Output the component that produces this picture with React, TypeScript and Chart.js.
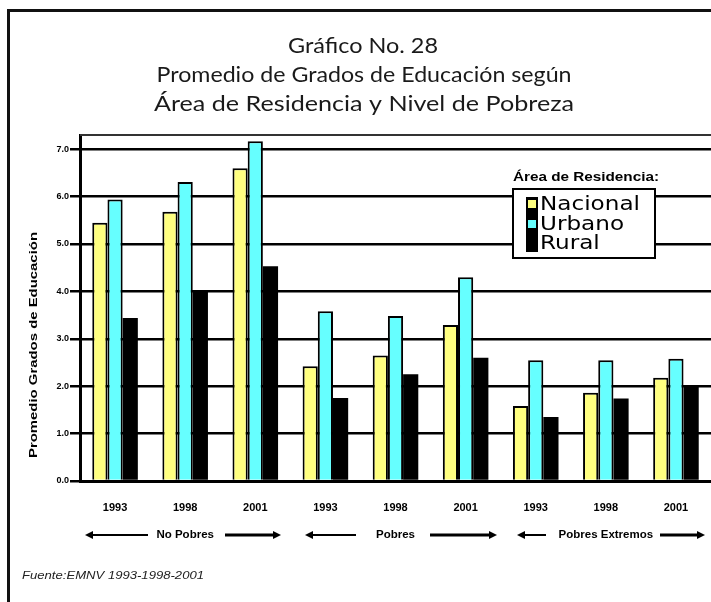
import React, { useEffect, useRef } from 'react';
import { Chart, registerables } from 'chart.js';

Chart.register(...registerables);

// ---- data ----
const CATEGORIES = ['1993', '1998', '2001', '1993', '1998', '2001', '1993', '1998', '2001'];
const GROUPS = ['No Pobres', 'Pobres', 'Pobres Extremos'];
const NACIONAL = [5.45, 5.68, 6.6, 2.42, 2.65, 3.29, 1.58, 1.86, 2.18];
const URBANO = [5.94, 6.31, 7.17, 3.58, 3.48, 4.3, 2.55, 2.55, 2.58];
const RURAL = [3.44, 3.99, 4.53, 1.75, 2.25, 2.6, 1.35, 1.74, 2.0];
const SERIES_NAMES = ['Nacional', 'Urbano', 'Rural'];
const TITLE_LINES = [
  'Gráfico No. 28',
  'Promedio de Grados de Educación según',
  'Área de Residencia y Nivel de Pobreza',
];
const Y_TITLE = 'Promedio Grados de Educación';
const LEGEND_TITLE = 'Área de Residencia:';
const SOURCE = 'Fuente:EMNV 1993-1998-2001';

const YELLOW = '#ffff80';
const CYAN = '#66ffff';
const BLACK = '#000000';

// arrow spans per group: [leftArrowStart, leftArrowEnd, rightArrowStart, rightArrowEnd]
const ARROWS = [
  [85, 148, 225, 281],
  [305, 356, 430, 497],
  [517, 546, 660, 705],
];

function fitText(ctx: CanvasRenderingContext2D, text: string, x: number, y: number, width: number) {
  const w = ctx.measureText(text).width;
  const sx = width / w;
  ctx.save();
  ctx.translate(x, y);
  ctx.scale(sx, 1);
  ctx.fillText(text, 0, 0);
  ctx.restore();
}

function arrow(ctx: CanvasRenderingContext2D, x1: number, x2: number, y: number, headAt: 'left' | 'right', lw: number) {
  ctx.save();
  ctx.strokeStyle = '#000';
  ctx.fillStyle = '#000';
  ctx.lineWidth = lw;
  ctx.beginPath();
  if (headAt === 'left') {
    ctx.moveTo(x1 + 6, y);
    ctx.lineTo(x2, y);
  } else {
    ctx.moveTo(x1, y);
    ctx.lineTo(x2 - 6, y);
  }
  ctx.stroke();
  ctx.beginPath();
  if (headAt === 'left') {
    ctx.moveTo(x1, y);
    ctx.lineTo(x1 + 8, y - 4);
    ctx.lineTo(x1 + 8, y + 4);
  } else {
    ctx.moveTo(x2, y);
    ctx.lineTo(x2 - 8, y - 4);
    ctx.lineTo(x2 - 8, y + 4);
  }
  ctx.closePath();
  ctx.fill();
  ctx.restore();
}

const decor = {
  id: 'decor',
  afterDraw(chart: any) {
    const ctx: CanvasRenderingContext2D = chart.ctx;
    const { left, right, top } = chart.chartArea;
    const xs = chart.scales.x;

    // outer frame
    ctx.save();
    ctx.strokeStyle = '#111';
    ctx.lineWidth = 3;
    ctx.beginPath();
    ctx.moveTo(8.5, 602);
    ctx.lineTo(8.5, 10.5);
    ctx.lineTo(711, 10.5);
    ctx.stroke();

    // plot top frame
    ctx.strokeStyle = '#333';
    ctx.lineWidth = 2;
    ctx.beginPath();
    ctx.moveTo(left, top);
    ctx.lineTo(right, top);
    ctx.stroke();
    ctx.restore();

    // title
    ctx.save();
    ctx.fillStyle = '#1a1a1a';
    ctx.textAlign = 'center';
    ctx.textBaseline = 'middle';
    ctx.font = '21px Lato';
    fitText(ctx, TITLE_LINES[0], 363, 46, 150);
    fitText(ctx, TITLE_LINES[1], 364, 75, 415);
    fitText(ctx, TITLE_LINES[2], 364, 104, 420);
    ctx.restore();

    // y axis title
    ctx.save();
    ctx.fillStyle = '#000';
    ctx.font = 'bold 10px "Liberation Sans"';
    ctx.textAlign = 'center';
    ctx.textBaseline = 'middle';
    ctx.translate(34, 345);
    ctx.rotate(-Math.PI / 2);
    fitText(ctx, Y_TITLE, 0, 0, 226);
    ctx.restore();

    // group labels with arrows
    ctx.save();
    ctx.fillStyle = '#000';
    ctx.font = 'bold 10px "Liberation Sans"';
    ctx.textAlign = 'center';
    ctx.textBaseline = 'middle';
    GROUPS.forEach((g, i) => {
      const cx = (xs.getPixelForValue(i * 3) + xs.getPixelForValue(i * 3 + 2)) / 2;
      const y = 535;
      fitText(ctx, g, cx, y, ctx.measureText(g).width * 1.15);
      const a = ARROWS[i];
      arrow(ctx, a[0], a[1], y, 'left', 2);
      arrow(ctx, a[2], a[3], y, 'right', 3);
    });
    ctx.restore();

    // source
    ctx.save();
    ctx.fillStyle = '#222';
    ctx.font = 'italic 11px "Liberation Sans"';
    ctx.textAlign = 'left';
    ctx.textBaseline = 'middle';
    fitText(ctx, SOURCE, 22, 576, 182);
    ctx.restore();

    // legend
    ctx.save();
    ctx.fillStyle = '#000';
    ctx.font = 'bold 12px "Liberation Sans"';
    ctx.textAlign = 'left';
    ctx.textBaseline = 'middle';
    fitText(ctx, LEGEND_TITLE, 513, 178, 146);
    ctx.fillStyle = '#fff';
    ctx.fillRect(513, 189, 142, 69);
    ctx.strokeStyle = '#000';
    ctx.lineWidth = 2;
    ctx.strokeRect(513, 189, 142, 69);
    const ds = chart.data.datasets;
    ctx.fillStyle = '#000';
    ctx.fillRect(526, 197, 12, 55);
    ctx.font = '19px "DejaVu Sans"';
    const scaleX = 100 / ctx.measureText(ds[0].label).width;
    const rowY = [204, 224, 243];
    ds.forEach((d: any, i: number) => {
      ctx.fillStyle = d.backgroundColor;
      if (d.backgroundColor !== BLACK) ctx.fillRect(528, rowY[i] - 4, 8, 8);
      ctx.fillStyle = '#000';
      fitText(ctx, d.label, 540, rowY[i] + 1, ctx.measureText(d.label).width * scaleX);
    });
    ctx.restore();
  },
};

export default function App() {
  const ref = useRef<HTMLCanvasElement>(null);
  useEffect(() => {
    const chart = new Chart(ref.current!, {
      type: 'bar',
      data: {
        labels: CATEGORIES,
        datasets: [
          { label: SERIES_NAMES[0], data: NACIONAL, backgroundColor: YELLOW, borderColor: '#000', borderWidth: 2 },
          { label: SERIES_NAMES[1], data: URBANO, backgroundColor: CYAN, borderColor: '#000', borderWidth: 2 },
          { label: SERIES_NAMES[2], data: RURAL, backgroundColor: BLACK, borderColor: '#000', borderWidth: 0 },
        ],
      },
      options: {
        responsive: false,
        animation: false,
        devicePixelRatio: 1,
        layout: { padding: { top: 135, left: 0, right: 0, bottom: 0 } },
        datasets: { bar: { categoryPercentage: 0.65, barPercentage: 1.0 } },
        plugins: { legend: { display: false }, title: { display: false }, tooltip: { enabled: false } },
        scales: {
          x: {
            grid: { display: false },
            border: { display: true, color: '#000', width: 3 },
            ticks: {
              color: '#000',
              font: { family: 'Liberation Sans', size: 11, weight: 'bold' },
              padding: 12,
              maxRotation: 0,
              autoSkip: false,
            },
            afterFit: (s: any) => { s.height = 121; },
          },
          y: {
            min: 0,
            max: 7.3,
            ticks: {
              stepSize: 1,
              includeBounds: false,
              color: '#000',
              font: { family: 'Liberation Sans', size: 9, weight: 'bold' },
              padding: 1,
              callback: (v: any) => Number(v).toFixed(1),
            },
            grid: { color: '#000', lineWidth: 2.5, tickLength: 10, drawTicks: true },
            border: { display: true, color: '#000', width: 3 },
            afterFit: (s: any) => { s.width = 80; },
          },
        },
      } as any,
      plugins: [decor],
    });
    return () => chart.destroy();
  }, []);
  return (
    <div style={{ position: 'absolute', left: 0, top: 0, width: 711, height: 602, background: '#fff' }}>
      <canvas ref={ref} width={711} height={602} style={{ display: 'block' }} />
    </div>
  );
}
